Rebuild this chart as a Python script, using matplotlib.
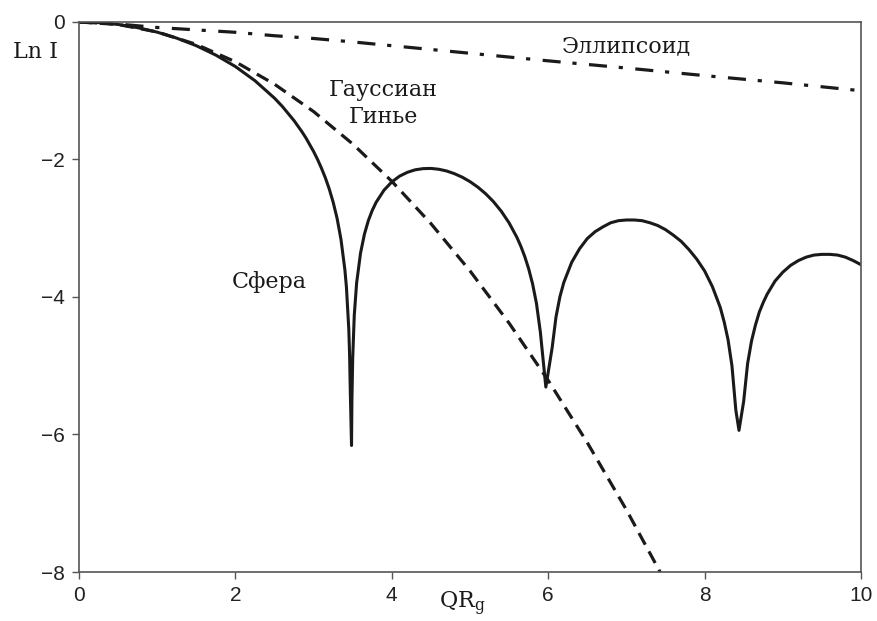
import matplotlib.pyplot as plt

# values
sphere_x = [0, 0.25, 0.5, 0.75, 1.0, 1.25, 1.5, 1.75, 2.0, 2.25, 2.5, 2.6,
            2.75, 2.85, 2.9, 3.0, 3.05, 3.1, 3.15, 3.2, 3.25, 3.3, 3.35, 3.4,
            3.42, 3.45, 3.46, 3.47, 3.485, 3.49, 3.5, 3.52, 3.55, 3.6, 3.65,
            3.7, 3.75, 3.8, 3.9, 4.0, 4.1, 4.2, 4.3, 4.4, 4.5, 4.6, 4.7, 4.8,
            4.9, 5.0, 5.1, 5.2, 5.3, 5.4, 5.5, 5.6, 5.65, 5.7, 5.75, 5.8, 5.85,
            5.9, 5.97, 6.05, 6.1, 6.15, 6.2, 6.3, 6.4, 6.5, 6.6, 6.7, 6.8, 6.9,
            7.0, 7.1, 7.2, 7.3, 7.4, 7.5, 7.6, 7.7, 7.8, 7.9, 8.0, 8.1, 8.2,
            8.25, 8.3, 8.35, 8.4, 8.44, 8.5, 8.55, 8.6, 8.65, 8.7, 8.75, 8.8,
            8.9, 9.0, 9.1, 9.2, 9.3, 9.4, 9.5, 9.6, 9.7, 9.8, 9.9, 10.0]
sphere_y = [0, -0.009, -0.036, -0.083, -0.148, -0.235, -0.345, -0.482, -0.648,
            -0.854, -1.108, -1.228, -1.435, -1.595, -1.683, -1.884, -1.998,
            -2.125, -2.266, -2.429, -2.621, -2.854, -3.162, -3.604, -3.86,
            -4.468, -4.83, -5.41, -6.16, -5.50, -4.889, -4.267, -3.798, -3.363,
            -3.086, -2.889, -2.740, -2.622, -2.447, -2.326, -2.242, -2.186,
            -2.150, -2.133, -2.130, -2.142, -2.167, -2.206, -2.257, -2.322,
            -2.402, -2.498, -2.613, -2.753, -2.922, -3.133, -3.261, -3.411,
            -3.588, -3.807, -4.093, -4.512, -5.31, -4.743, -4.29, -3.996,
            -3.788, -3.497, -3.30, -3.15, -3.05, -2.98, -2.92, -2.89, -2.88,
            -2.88, -2.89, -2.92, -2.96, -3.02, -3.10, -3.19, -3.31, -3.45,
            -3.62, -3.85, -4.15, -4.36, -4.62, -5.00, -5.648, -5.94, -5.517,
            -4.970, -4.642, -4.41, -4.22, -4.08, -3.96, -3.77, -3.64, -3.54,
            -3.47, -3.42, -3.39, -3.38, -3.38, -3.39, -3.42, -3.47, -3.53]

gauss_x = [0, 0.5, 1.0, 1.5, 2.0, 2.5, 3.0, 3.5, 4.0, 4.5, 5.0, 5.5, 6.0, 6.5,
           7.0, 7.5]
gauss_y = [0, -0.036, -0.145, -0.326, -0.579, -0.905, -1.303, -1.774, -2.317,
           -2.932, -3.620, -4.380, -5.213, -6.118, -7.095, -8.145]

ellips_x = [0, 0.5, 1.0, 1.5, 2.0, 2.5, 3.0, 3.5, 4.0, 5.0, 6.0, 7.0, 8.0,
            9.0, 10.0]
ellips_y = [0, -0.03, -0.08, -0.115, -0.15, -0.20, -0.24, -0.29, -0.345,
            -0.455, -0.565, -0.67, -0.78, -0.885, -1.0]

plt.rcParams['lines.scale_dashes'] = False
plt.rcParams['mathtext.fontset'] = 'dejavuserif'

ink = '#1a1a1a'
serif = 'DejaVu Serif'

fig = plt.figure(figsize=(8.78, 6.21), dpi=100)
ax = fig.add_axes([0.090, 0.0789, 0.8906, 0.8857])

ax.plot(ellips_x, ellips_y, color=ink, lw=2.3, dashes=[13, 8.5, 3, 9])
ax.plot(gauss_x, gauss_y, color=ink, lw=2.3, dashes=[9.5, 5.5])
ax.plot(sphere_x, sphere_y, color=ink, lw=2.2)

ax.set_xlim(0, 10)
ax.set_ylim(-8, 0)
ax.set_xticks([0, 2, 4, 6, 8, 10])
ax.set_yticks([-8, -6, -4, -2, 0])

for sp in ax.spines.values():
    sp.set_color('#555555')
    sp.set_linewidth(1.2)
ax.tick_params(direction='out', length=5, width=1, color='#555555',
               labelsize=15, pad=5)
for lab in ax.get_xticklabels() + ax.get_yticklabels():
    lab.set_family('Liberation Sans')
    lab.set_color('#222222')

ax.text(7.0, -0.35, 'Эллипсоид', family=serif, fontsize=16, ha='center',
        va='center', color=ink)
ax.text(3.89, -0.99, 'Гауссиан', family=serif, fontsize=16, ha='center',
        va='center', color=ink)
ax.text(3.89, -1.38, 'Гинье', family=serif, fontsize=16, ha='center',
        va='center', color=ink)
ax.text(2.43, -3.78, 'Сфера', family=serif, fontsize=16, ha='center',
        va='center', color=ink)

fig.text(0.040, 0.916, 'Ln I', family=serif, fontsize=16, ha='center',
         va='center', color=ink)
fig.text(0.527, 0.020, r'QR$_\mathrm{g}$', family=serif, fontsize=16,
         ha='center', va='baseline', color=ink)

fig.savefig('out.png', dpi=100)
